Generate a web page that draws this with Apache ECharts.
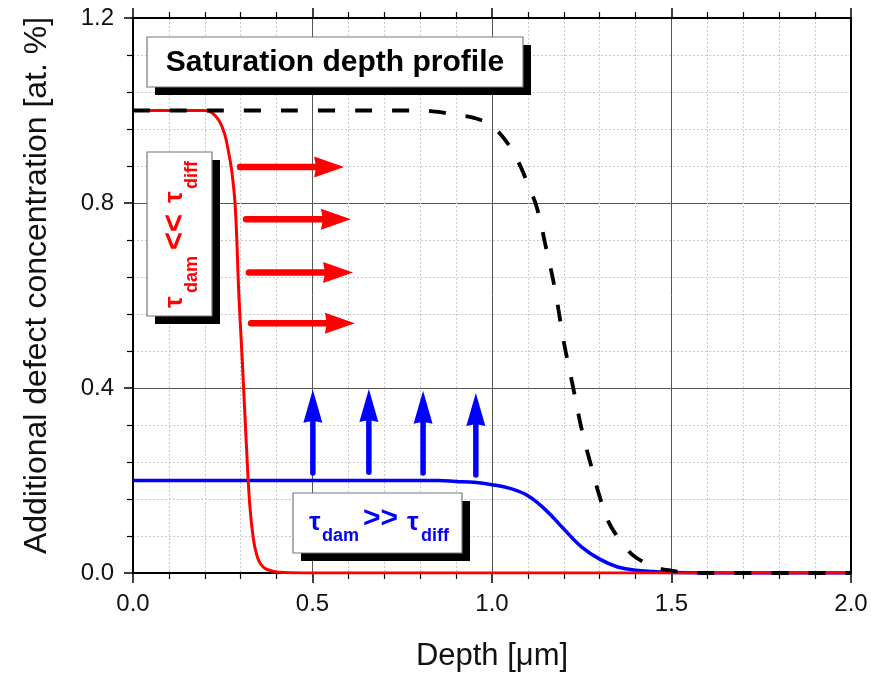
<!DOCTYPE html>
<html>
<head>
<meta charset="utf-8">
<script src="https://cdn.jsdelivr.net/npm/echarts@6/dist/echarts.min.js"></script>
<style>
html,body{margin:0;padding:0;background:#fff;}
#chart{width:871px;height:675px;}
</style>
</head>
<body>
<div id="chart"></div>
<script>
// ---- data ----
const xTicks = [0.0, 0.5, 1.0, 1.5, 2.0];
const yTicks = [0.0, 0.4, 0.8, 1.2];

// red: tau_dam << tau_diff
const redProfile = [
  [0,1.0],[0.2,1.0],[0.22,0.995],[0.24,0.978],[0.255,0.95],[0.265,0.915],[0.275,0.87],
  [0.285,0.79],[0.295,0.6],[0.305,0.45],[0.315,0.29],[0.325,0.15],[0.335,0.075],
  [0.345,0.038],[0.355,0.02],[0.37,0.009],[0.39,0.004],[0.42,0.001],[0.5,0],[2.0,0]
];
// blue: tau_dam >> tau_diff
const blueProfile = [
  [0,0.2],[0.85,0.2],[0.9,0.198],[0.95,0.196],[1.0,0.191],[1.05,0.183],[1.1,0.167],
  [1.15,0.136],[1.2,0.095],[1.25,0.056],[1.3,0.03],[1.35,0.013],[1.4,0.006],
  [1.45,0.003],[1.5,0.001],[1.6,0],[2.0,0]
];
// black dashed: saturation depth profile
const satProfile = [
  [0,1.0],[0.8,1.0],[0.85,0.997],[0.9,0.99],[0.95,0.984],[1.0,0.966],[1.05,0.922],
  [1.08,0.878],[1.1,0.84],[1.125,0.79],[1.15,0.705],[1.175,0.615],[1.2,0.5],
  [1.225,0.405],[1.25,0.31],[1.275,0.235],[1.3,0.165],[1.325,0.11],[1.35,0.078],
  [1.375,0.052],[1.4,0.034],[1.45,0.014],[1.5,0.005],[1.55,0.001],[1.6,0],[2.0,0]
];
// arrows: red [xStart, xEnd, y], blue [x, yStart, yEnd]
const redArrows = [[0.298,0.588,0.878],[0.315,0.607,0.765],[0.323,0.613,0.650],[0.329,0.618,0.540]];
const blueArrows = [[0.501,0.216,0.396],[0.657,0.218,0.398],[0.808,0.216,0.394],[0.955,0.212,0.389]];

const FONT = "'Liberation Sans', Arial, Helvetica, sans-serif";
const chart = echarts.init(document.getElementById('chart'), null, {renderer:'canvas'});

function arrowItemH(params, api){
  const p0 = api.coord([api.value(0), api.value(2)]);
  const p1 = api.coord([api.value(1), api.value(2)]);
  const hl = 30, hw = 10.5;
  return {type:'group', children:[
    {type:'line', shape:{x1:p0[0], y1:p0[1], x2:p1[0]-hl+3, y2:p1[1]},
     style:{stroke:'#ff0000', lineWidth:6.5, lineCap:'round'}},
    {type:'polygon', shape:{points:[[p1[0],p1[1]],[p1[0]-hl,p1[1]-hw],[p1[0]-hl+2,p1[1]],[p1[0]-hl,p1[1]+hw]]},
     style:{fill:'#ff0000'}}
  ]};
}
function arrowItemV(params, api){
  const p0 = api.coord([api.value(0), api.value(1)]);
  const p1 = api.coord([api.value(0), api.value(2)]);
  const hl = 33, hw = 9.5;
  return {type:'group', children:[
    {type:'line', shape:{x1:p0[0], y1:p0[1], x2:p1[0], y2:p1[1]+hl-3},
     style:{stroke:'#0000ff', lineWidth:5.5, lineCap:'round'}},
    {type:'polygon', shape:{points:[[p1[0],p1[1]],[p1[0]-hw,p1[1]+hl],[p1[0],p1[1]+hl-2],[p1[0]+hw,p1[1]+hl]]},
     style:{fill:'#0000ff'}}
  ]};
}

function boxWithShadow(x, y, w, h){
  return [
    {type:'rect', shape:{x:x+8, y:y+8, width:w, height:h}, style:{fill:'#000'}, z:50},
    {type:'rect', shape:{x:x, y:y, width:w, height:h}, style:{fill:'#fff', stroke:'#777', lineWidth:1.2}, z:51}
  ];
}
function txt(text, x, y, size, color, opts){
  opts = opts || {};
  return {type:'text', x:x, y:y, rotation:opts.rotation||0, z:52,
    style:{text:text, fill:color, fontFamily:FONT, fontWeight:'bold', fontSize:size,
      textAlign:opts.align||'left', textVerticalAlign:'middle'}};
}

const graphics = []
  .concat(boxWithShadow(147, 37, 376, 50))
  .concat([txt('Saturation depth profile', 335, 63, 30, '#000', {align:'center'})])
  .concat(boxWithShadow(147, 152, 65, 164))
  .concat([
    txt('τ', 174.5, 308, 26, '#ff0000', {rotation:Math.PI/2}),
    txt('dam', 192, 293, 18, '#ff0000', {rotation:Math.PI/2}),
    txt('<<', 175, 250, 31, '#ff0000', {rotation:Math.PI/2}),
    txt('τ', 174.5, 203, 26, '#ff0000', {rotation:Math.PI/2}),
    txt('diff', 192, 189, 18, '#ff0000', {rotation:Math.PI/2})
  ])
  .concat(boxWithShadow(293, 493, 169, 60))
  .concat([
    txt('τ', 309, 523, 26, '#0000ff'),
    txt('dam', 322, 536, 18, '#0000ff'),
    txt('>>', 363, 519, 30, '#0000ff'),
    txt('τ', 407, 523, 26, '#0000ff'),
    txt('diff', 421, 536, 18, '#0000ff')
  ]);

const axisCommon = {
  type:'value', min:0, max:2, interval:0.5,
  axisLine:{show:true, onZero:false, lineStyle:{color:'#000', width:2}},
  axisTick:{show:true, inside:false, length:10, lineStyle:{color:'#000', width:1.5}},
  minorTick:{show:true, splitNumber:5, length:6, lineStyle:{color:'#000', width:1.2}}
};

chart.setOption({
  backgroundColor:'#fff',
  animation:false,
  grid:{left:133, right:20, top:18, bottom:102, containLabel:false, outerBoundsMode:'none'},
  xAxis:[
    Object.assign({}, axisCommon, {
      position:'bottom',
      name:'Depth [μm]', nameLocation:'middle', nameGap:68,
      nameTextStyle:{fontFamily:FONT, fontSize:31, color:'#111'},
      axisLabel:{show:true, fontFamily:FONT, fontSize:24, color:'#111', margin:19,
        formatter:v => xTicks.indexOf(v) >= 0 ? v.toFixed(1) : ''},
      splitLine:{show:true, lineStyle:{color:'#555', width:1}},
      minorSplitLine:{show:true, lineStyle:{color:'#c8c8c8', width:1, type:[2,2]}}
    }),
    Object.assign({}, axisCommon, {
      position:'top',
      axisLabel:{show:false}, splitLine:{show:false}, minorSplitLine:{show:false}
    })
  ],
  yAxis:[
    {
      type:'value', min:0, max:1.2, interval:0.4, position:'left',
      name:'Additional defect concentration [at. %]', nameLocation:'middle', nameGap:80, nameRotate:90,
      nameTextStyle:{fontFamily:FONT, fontSize:32, color:'#111', padding:[0,0,0,20]},
      axisLine:{show:true, onZero:false, lineStyle:{color:'#000', width:2}},
      axisTick:{show:true, inside:false, length:9, lineStyle:{color:'#000', width:1.5}},
      minorTick:{show:true, splitNumber:5, length:6, lineStyle:{color:'#000', width:1.2}},
      axisLabel:{show:true, fontFamily:FONT, fontSize:24, color:'#111', margin:19,
        formatter:v => yTicks.some(t => Math.abs(t - v) < 1e-9) ? v.toFixed(1) : ''},
      splitLine:{show:true, lineStyle:{color:'#555', width:1}},
      minorSplitLine:{show:true, lineStyle:{color:'#c8c8c8', width:1, type:[2,2]}}
    },
    {
      type:'value', min:0, max:1.2, interval:0.4, position:'right',
      axisLine:{show:true, onZero:false, lineStyle:{color:'#000', width:2}},
      axisTick:{show:false}, axisLabel:{show:false}, splitLine:{show:false}
    }
  ],
  series:[
    {type:'line', name:'blue', data:blueProfile, xAxisIndex:0, yAxisIndex:0, showSymbol:false, symbol:'none',
     smooth:0.4, z:3, lineStyle:{color:'#0000ff', width:3.5}},
    {type:'line', name:'red', data:redProfile, xAxisIndex:0, yAxisIndex:0, showSymbol:false, symbol:'none',
     smooth:0.4, z:4, lineStyle:{color:'#ff0000', width:3}},
    {type:'line', name:'saturation', data:satProfile, xAxisIndex:0, yAxisIndex:0, showSymbol:false, symbol:'none',
     smooth:0.4, z:5, lineStyle:{color:'#000', width:3.8, type:[17,20]}},
    {type:'custom', name:'redArrows', data:redArrows, xAxisIndex:0, yAxisIndex:0, renderItem:arrowItemH,
     encode:{x:[0,1], y:2}, z:6, clip:false},
    {type:'custom', name:'blueArrows', data:blueArrows, xAxisIndex:0, yAxisIndex:0, renderItem:arrowItemV,
     encode:{x:0, y:[1,2]}, z:6, clip:false}
  ],
  graphic:graphics
});
</script>
</body>
</html>
